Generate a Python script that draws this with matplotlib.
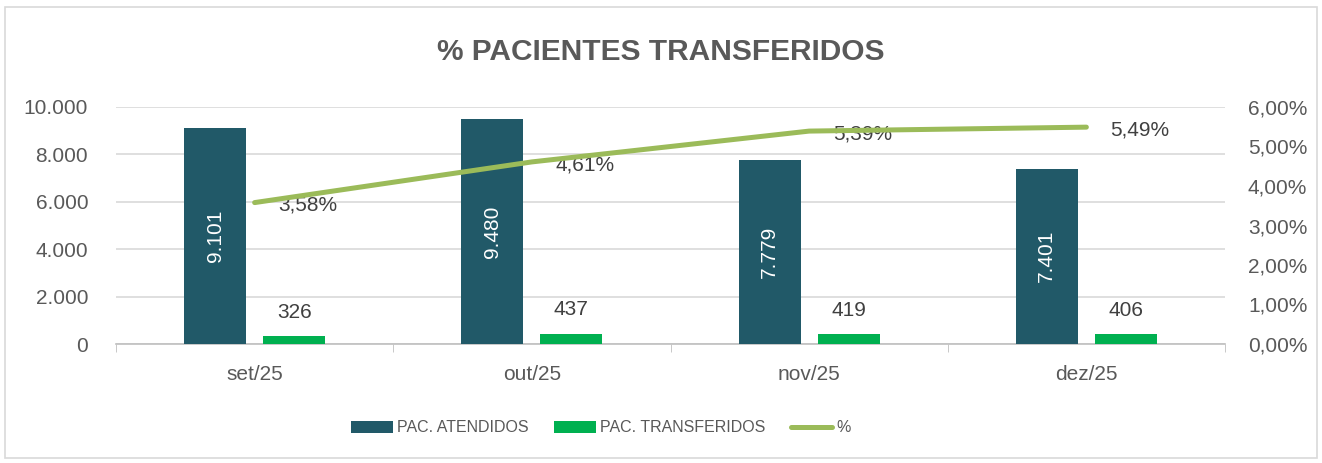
import numpy as np
import matplotlib.pyplot as plt
from matplotlib.patches import Rectangle

meses = ['set/25', 'out/25', 'nov/25', 'dez/25']
atendidos = [9101, 9480, 7779, 7401]
transferidos = [326, 437, 419, 406]
percentual = [3.58, 4.61, 5.39, 5.49]

cor_atend = '#215968'
cor_transf = '#00b050'
cor_linha = '#9bbb59'
cor_texto = '#595959'

plt.rcParams['font.family'] = ['Liberation Sans', 'DejaVu Sans']


def fmt_milhar(v):
    return f'{v:,.0f}'.replace(',', '.')


fig = plt.figure(figsize=(13.22, 4.63), dpi=100)
fig.patches.append(Rectangle((0.004, 0.01), 0.992, 0.975, transform=fig.transFigure,
                             fill=False, edgecolor='#d9d9d9', linewidth=1.2))

ax = fig.add_axes([116 / 1322, 1 - 344 / 463, (1225 - 116) / 1322, (344 - 107) / 463])
ax2 = ax.twinx()

x = np.arange(len(meses))
larg = 0.224
off = 0.1425

b1 = ax.bar(x - off, atendidos, larg, color=cor_atend, zorder=3)
b2 = ax.bar(x + off, transferidos, larg, color=cor_transf, zorder=3)

for xi, v in zip(x, atendidos):
    ax.text(xi - off, v / 2, fmt_milhar(v), rotation=90, ha='center', va='center',
            color='white', fontsize=15, zorder=4)
for xi, v in zip(x, transferidos):
    ax.text(xi + off, v + 1000, fmt_milhar(v), ha='center', va='center',
            color='#404040', fontsize=15, zorder=4)

ax.set_xlim(-0.5, len(meses) - 0.5)
ax.set_ylim(0, 10000)
ax.set_yticks(np.arange(0, 10001, 2000))
ax.set_yticklabels([fmt_milhar(v) for v in np.arange(0, 10001, 2000)])
ax.yaxis.grid(True, color='#d9d9d9', linewidth=1.2, zorder=0)
ax.set_axisbelow(True)

# marcas do eixo x nas divisas das categorias
ax.set_xticks(np.arange(-0.5, len(meses)), minor=True)
ax.set_xticks(x)
ax.set_xticklabels(meses)
ax.tick_params(axis='x', which='major', length=0, pad=15, labelsize=15, labelcolor=cor_texto)
ax.tick_params(axis='x', which='minor', length=6, color='#bfbfbf', direction='out')
ax.tick_params(axis='y', which='major', length=0, pad=20, labelsize=15, labelcolor=cor_texto)

for s in ['top', 'right', 'left']:
    ax.spines[s].set_visible(False)
    ax2.spines[s].set_visible(False)
ax2.spines['bottom'].set_visible(False)
ax.spines['bottom'].set_color('#bfbfbf')
ax.spines['bottom'].set_linewidth(1.2)

l1, = ax2.plot(x, percentual, color=cor_linha, linewidth=3.6, solid_capstyle='round', zorder=5)
for xi, p in zip(x, percentual):
    ax2.annotate(f'{p:.2f}%'.replace('.', ','), (xi, p), xytext=(17, -2),
                 textcoords='offset points', ha='left', va='center',
                 color='#404040', fontsize=15)

ax2.set_ylim(0, 6)
ax2.set_yticks(np.arange(0, 6.01, 1))
ax2.set_yticklabels([f'{v:.2f}%'.replace('.', ',') for v in np.arange(0, 6.01, 1)])
ax2.tick_params(axis='y', length=0, pad=16.5, labelsize=15, labelcolor=cor_texto)

fig.text(0.5, 1 - 52 / 463, '% PACIENTES TRANSFERIDOS', ha='center', va='center',
         fontsize=21.5, fontweight='bold', color=cor_texto)

fig.legend([b1, b2, l1], ['PAC. ATENDIDOS', 'PAC. TRANSFERIDOS', '%'],
           loc='center', bbox_to_anchor=(601 / 1322, 1 - 428 / 463), ncol=3, frameon=False,
           fontsize=11.5, labelcolor=cor_texto, handlelength=2.6, handleheight=0.8,
           columnspacing=1.6, handletextpad=0.25)

fig.savefig('out.png', dpi=100)
